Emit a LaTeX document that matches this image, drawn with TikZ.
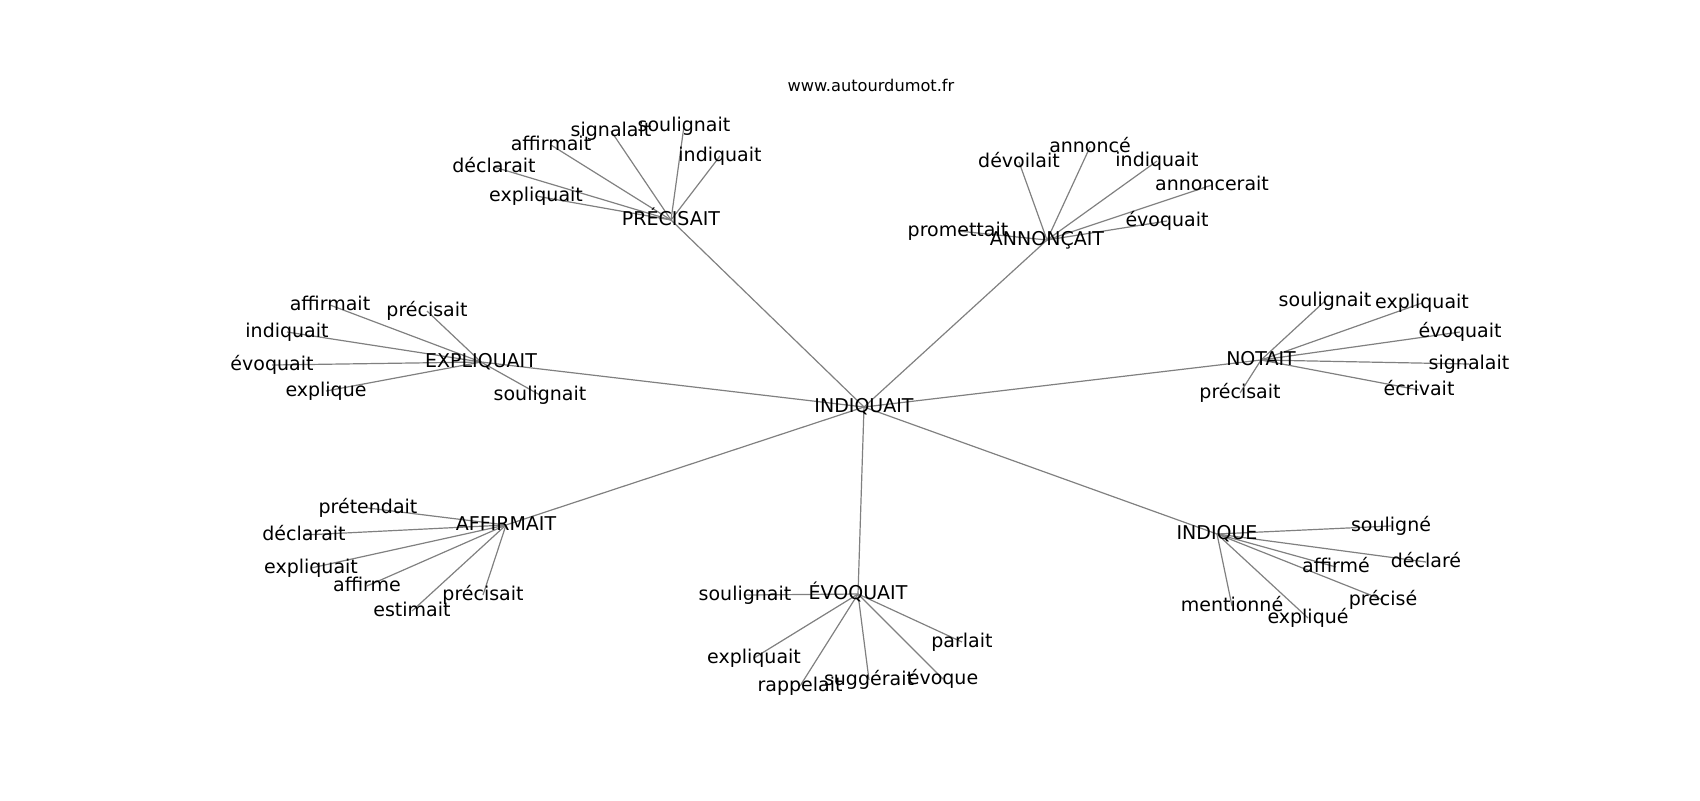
\documentclass[tikz,border=0pt]{standalone}
\usepackage{fontspec}
\setmainfont{DejaVu Sans}
\usetikzlibrary{backgrounds}

\begin{document}
\begin{tikzpicture}
      [x=.5pt,y=-.5pt
    % стиль подписей и рёбер
      ,mot/.style={inner sep=0pt,text=black,font=\fontsize{9.5}{11}\selectfont,text height=.76em,text depth=.24em}
      ,lien/.style={draw=gray,line width=.6pt}
      ]
    \useasboundingbox (0,-2) rectangle (1700,798);
    \node[inner sep=0pt,font=\fontsize{8.1}{10}\selectfont] (site) at (871,83) {www.autourdumot.fr};

    % центр и главные вершины
    \node[mot] (I) at (864,405) {INDIQUAIT};
    \node[mot] (P) at (671,218) {PRÉCISAIT};
    \node[mot] (A) at (1047,238) {ANNONÇAIT};
    \node[mot] (E) at (481,360) {EXPLIQUAIT};
    \node[mot] (N) at (1261,358) {NOTAIT};
    \node[mot] (F) at (506,523) {AFFIRMAIT};
    \node[mot] (V) at (858,592) {ÉVOQUAIT};
    \node[mot] (Q) at (1217,532) {INDIQUE};

    % PRÉCISAIT
    \node[mot] (P1) at (684,124) {soulignait};
    \node[mot] (P2) at (611,129) {signalait};
    \node[mot] (P3) at (551,143) {affirmait};
    \node[mot] (P4) at (494,165) {déclarait};
    \node[mot] (P5) at (536,194) {expliquait};
    \node[mot] (P6) at (720,154) {indiquait};
    % ANNONÇAIT
    \node[mot] (A1) at (958,229) {promettait};
    \node[mot] (A2) at (1019,160) {dévoilait};
    \node[mot] (A3) at (1090,145) {annoncé};
    \node[mot] (A4) at (1157,159) {indiquait};
    \node[mot] (A5) at (1212,183) {annoncerait};
    \node[mot] (A6) at (1167,219) {évoquait};
    % EXPLIQUAIT
    \node[mot] (E1) at (330,303) {affirmait};
    \node[mot] (E2) at (427,309) {précisait};
    \node[mot] (E3) at (287,330) {indiquait};
    \node[mot] (E4) at (272,363) {évoquait};
    \node[mot] (E5) at (326,389) {explique};
    \node[mot] (E6) at (540,393) {soulignait};
    % NOTAIT
    \node[mot] (N1) at (1325,299) {soulignait};
    \node[mot] (N2) at (1422,301) {expliquait};
    \node[mot] (N3) at (1460,330) {évoquait};
    \node[mot] (N4) at (1469,362) {signalait};
    \node[mot] (N5) at (1419,388) {écrivait};
    \node[mot] (N6) at (1240,391) {précisait};
    % AFFIRMAIT
    \node[mot] (F1) at (368,506) {prétendait};
    \node[mot] (F2) at (304,533) {déclarait};
    \node[mot] (F3) at (311,566) {expliquait};
    \node[mot] (F4) at (367,584) {affirme};
    \node[mot] (F5) at (483,593) {précisait};
    \node[mot] (F6) at (412,609) {estimait};
    % ÉVOQUAIT
    \node[mot] (V1) at (745,593) {soulignait};
    \node[mot] (V2) at (754,656) {expliquait};
    \node[mot] (V3) at (800,684) {rappelait};
    \node[mot] (V4) at (869,678) {suggérait};
    \node[mot] (V5) at (943,677) {évoque};
    \node[mot] (V6) at (962,640) {parlait};
    % INDIQUE
    \node[mot] (Q1) at (1391,524) {souligné};
    \node[mot] (Q2) at (1426,560) {déclaré};
    \node[mot] (Q3) at (1336,565) {affirmé};
    \node[mot] (Q4) at (1383,598) {précisé};
    \node[mot] (Q5) at (1232,604) {mentionné};
    \node[mot] (Q6) at (1308,616) {expliqué};

    % рёбра под подписями
    \begin{scope}[on background layer]
        \foreach \c in {P,A,E,N,F,V,Q}
            \draw[lien] (I.center) -- (\c.center);
        \foreach \c in {P,A,E,N,F,V,Q}
            \foreach \k in {1,...,6}
                \draw[lien] (\c.center) -- (\c\k.center);
    \end{scope}
\end{tikzpicture}
\end{document}
